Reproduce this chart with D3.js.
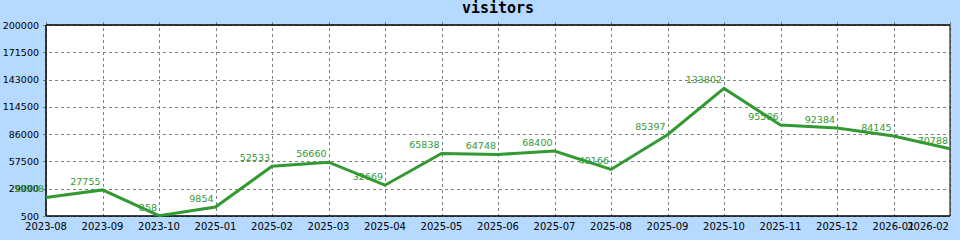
<!DOCTYPE html>
<html>
<head>
<meta charset="utf-8">
<script src="https://cdn.jsdelivr.net/npm/d3@7"></script>
<style>
  html, body { margin: 0; padding: 0; background: #b5d9ff; }
  svg { display: block; }
</style>
</head>
<body>
<svg id="chart" width="960" height="240"></svg>
<script>
const categories = ["2023-08","2023-09","2023-10","2025-01","2025-02","2025-03","2025-04","2025-05","2025-06","2025-07","2025-08","2025-09","2025-10","2025-11","2025-12","2026-01","2026-02"];
const visitors = [19908, 27755, 858, 9854, 52533, 56660, 32669, 65838, 64748, 68400, 49166, 85397, 133802, 95586, 92384, 84145, 70788];
const yTicks = [500, 29000, 57500, 86000, 114500, 143000, 171500, 200000];
const title = "visitors";

const W = 960, H = 240;
const m = {left: 46, right: 10, top: 25, bottom: 24};
const svg = d3.select("#chart");
svg.append("rect").attr("width", W).attr("height", H).attr("fill", "#b5d9ff");

const x = d3.scalePoint().domain(categories).range([m.left, W - m.right]);
const y = d3.scaleLinear().domain([500, 200000]).range([H - m.bottom, m.top]);

// plot area
svg.append("rect").attr("x", m.left).attr("y", m.top)
  .attr("width", W - m.right - m.left).attr("height", H - m.bottom - m.top)
  .attr("fill", "#ffffff");

const font = "DejaVu Sans, Verdana, sans-serif";

// grid horizontal
svg.append("g").selectAll("line").data(yTicks).join("line")
  .attr("x1", m.left - 3).attr("x2", W - m.right)
  .attr("y1", d => Math.round(y(d)) + 0.5).attr("y2", d => Math.round(y(d)) + 0.5)
  .attr("stroke", "#808080").attr("stroke-width", 1).attr("stroke-dasharray", "3,3");

// grid vertical
svg.append("g").selectAll("line").data(categories).join("line")
  .attr("x1", d => Math.round(x(d)) + 0.5).attr("x2", d => Math.round(x(d)) + 0.5)
  .attr("y1", m.top - 3).attr("y2", H - m.bottom)
  .attr("stroke", "#808080").attr("stroke-width", 1).attr("stroke-dasharray", "3,3");

// frame
const fr = svg.append("g").attr("stroke", "#000").attr("stroke-width", 1.5).attr("fill", "none");
fr.append("line").attr("x1", m.left).attr("x2", W - m.right).attr("y1", m.top).attr("y2", m.top);
fr.append("line").attr("x1", m.left).attr("x2", W - m.right).attr("y1", H - m.bottom).attr("y2", H - m.bottom);
fr.append("line").attr("x1", m.left).attr("x2", m.left).attr("y1", m.top).attr("y2", H - m.bottom);
fr.append("line").attr("x1", W - m.right).attr("x2", W - m.right).attr("y1", m.top).attr("y2", H - m.bottom).attr("stroke-width", 1);

// y labels
svg.append("g").selectAll("text").data(yTicks).join("text")
  .attr("x", 39).attr("y", d => y(d) + 3.5)
  .attr("text-anchor", "end").attr("font-family", font).attr("font-size", "9.5px")
  .attr("fill", "#000").text(d => d);

// x labels
const xl = svg.append("g").selectAll("text").data(categories).join("text")
  .attr("x", d => x(d)).attr("y", 230)
  .attr("text-anchor", "middle").attr("font-family", font).attr("font-size", "10px")
  .attr("fill", "#000").text(d => d);
xl.each(function(d) {
  const bb = this.getBBox();
  if (bb.x + bb.width > W - 11) {
    d3.select(this).attr("text-anchor", "end").attr("x", W - 11);
  }
});

// line
const line = d3.line().x((d, i) => x(categories[i])).y(d => y(d));
svg.append("path").datum(visitors).attr("d", line)
  .attr("fill", "none").attr("stroke", "#339933").attr("stroke-width", 3)
  .attr("stroke-linejoin", "miter");

// data labels
svg.append("g").selectAll("text").data(visitors).join("text")
  .attr("x", (d, i) => x(categories[i]) - 2).attr("y", d => y(d) - 5)
  .attr("text-anchor", "end").attr("font-family", font).attr("font-size", "9.5px")
  .attr("fill", "#339933").text(d => d);

// title
svg.append("text").attr("x", 498).attr("y", 13)
  .attr("text-anchor", "middle").attr("font-family", "DejaVu Sans Mono, monospace")
  .attr("font-weight", "bold").attr("font-size", "15px").attr("fill", "#000")
  .text(title);
</script>
</body>
</html>
